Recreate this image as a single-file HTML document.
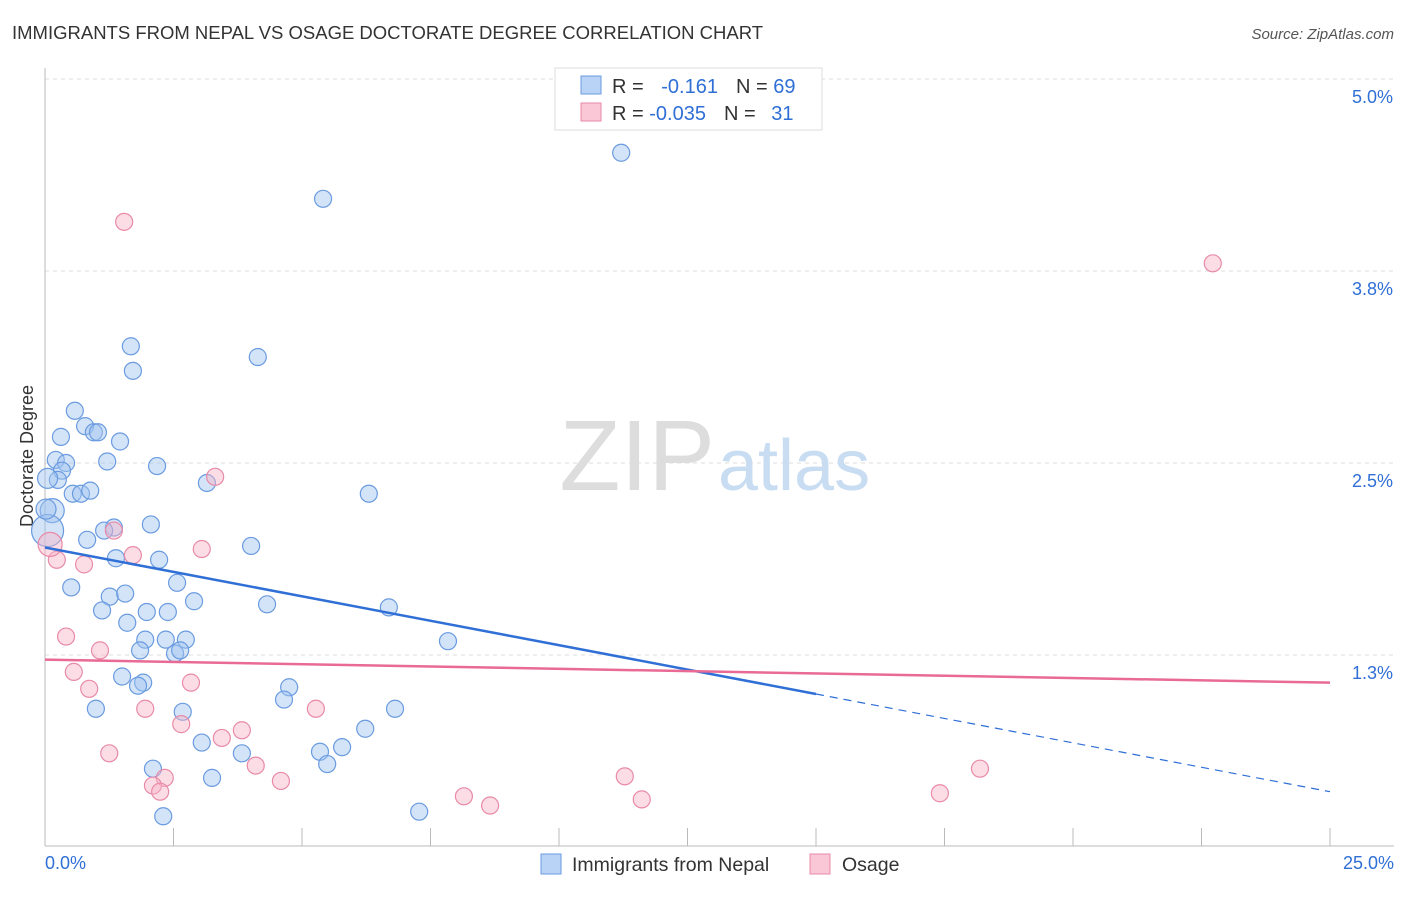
<!DOCTYPE html>
<html><head><meta charset="utf-8"><style>
body{margin:0;background:#fff;font-family:"Liberation Sans",sans-serif}
svg text{font-family:"Liberation Sans",sans-serif}
</style></head><body>
<svg width="1406" height="892">
<text x="12" y="39" font-size="18.5" fill="#333">IMMIGRANTS FROM NEPAL VS OSAGE DOCTORATE DEGREE CORRELATION CHART</text>
<text x="1394" y="39" font-size="15" fill="#555" text-anchor="end" font-style="italic">Source: ZipAtlas.com</text>
<text x="33" y="456" font-size="18" fill="#333" text-anchor="middle" transform="rotate(-90 33 456)">Doctorate Degree</text>
<g id="grid"></g><g id="axes"></g>
<text x="715" y="490" font-size="100" fill="#ddd" text-anchor="end" font-family="Liberation Serif">ZIP</text>
<text x="718" y="490" font-size="72" fill="#c8dcf2">atlas</text>
<g id="pts"></g><g id="lines"></g>
<g>
<rect x="555" y="68" width="267" height="62" fill="#fff" stroke="#ddd"/>
<rect x="581" y="76" width="20" height="18" fill="#b8d3f5" stroke="#6a9be0"/>
<rect x="581" y="103" width="20" height="18" fill="#f9c7d6" stroke="#e88aa8"/>
<text x="612" y="93" font-size="20" fill="#333">R = <tspan fill="#2f6fd6" dx="12">-0.161</tspan><tspan dx="18" fill="#333">N = </tspan><tspan fill="#2f6fd6">69</tspan></text>
<text x="612" y="120" font-size="20" fill="#333">R = <tspan fill="#2f6fd6">-0.035</tspan><tspan dx="18" fill="#333">N = </tspan><tspan fill="#2f6fd6" dx="10">31</tspan></text>
</g>
<g>
<rect x="541" y="854" width="20" height="20" fill="#b8d3f5" stroke="#6a9be0"/>
<text x="572" y="871" font-size="19.5" fill="#333">Immigrants from Nepal</text>
<rect x="810" y="854" width="20" height="20" fill="#f9c7d6" stroke="#e88aa8"/>
<text x="842" y="871" font-size="19.5" fill="#333">Osage</text>
</g>
<text x="45" y="869" font-size="18" fill="#2f6fd6">0.0%</text>
<text x="1394" y="869" font-size="18" fill="#2f6fd6" text-anchor="end">25.0%</text>
</svg>
<script>
const yTicks=[1.25,2.5,3.75,5.0];
const yTickLabels=["1.3%","2.5%","3.8%","5.0%"];
const blueX=[11.21,5.41,1.67,4.14,1.71,0.58,0.78,0.31,0.95,1.03,1.46,0.21,0.41,0.33,1.21,2.18,0.25,3.15,0.54,0.70,0.88,6.30,0.14,2.06,1.34,1.15,0.82,4.01,1.38,2.22,2.57,0.51,1.26,1.56,2.90,4.32,6.69,1.11,1.98,2.39,1.60,1.95,2.35,2.74,1.85,2.53,2.63,7.84,1.50,1.91,1.81,4.75,4.65,0.99,6.81,2.68,6.23,3.05,5.78,5.35,3.83,5.49,2.10,3.25,7.28,2.30,0.05,0.05,0.02];
const blueY=[4.52,4.22,3.26,3.19,3.10,2.84,2.74,2.67,2.70,2.70,2.64,2.52,2.50,2.45,2.51,2.48,2.39,2.37,2.30,2.30,2.32,2.30,2.19,2.10,2.08,2.06,2.00,1.96,1.88,1.87,1.72,1.69,1.63,1.65,1.60,1.58,1.56,1.54,1.53,1.53,1.46,1.35,1.35,1.35,1.28,1.26,1.28,1.34,1.11,1.07,1.05,1.04,0.96,0.90,0.90,0.88,0.77,0.68,0.65,0.62,0.61,0.54,0.51,0.45,0.23,0.20,2.06,2.40,2.20];
const blueR=[8.5,8.5,8.5,8.5,8.5,8.5,8.5,8.5,8.5,8.5,8.5,8.5,8.5,8.5,8.5,8.5,8.5,8.5,8.5,8.5,8.5,8.5,12,8.5,8.5,8.5,8.5,8.5,8.5,8.5,8.5,8.5,8.5,8.5,8.5,8.5,8.5,8.5,8.5,8.5,8.5,8.5,8.5,8.5,8.5,8.5,8.5,8.5,8.5,8.5,8.5,8.5,8.5,8.5,8.5,8.5,8.5,8.5,8.5,8.5,8.5,8.5,8.5,8.5,8.5,8.5,16,10,10];
const pinkX=[1.54,22.72,3.31,3.05,1.71,1.34,0.23,0.76,0.41,1.07,0.56,0.86,2.84,1.95,5.27,2.65,3.83,3.44,1.25,4.10,2.33,4.59,2.10,2.24,8.15,8.66,11.28,11.61,17.41,18.19,0.10];
const pinkY=[4.07,3.80,2.41,1.94,1.90,2.06,1.87,1.84,1.37,1.28,1.14,1.03,1.07,0.90,0.90,0.80,0.76,0.71,0.61,0.53,0.45,0.43,0.40,0.36,0.33,0.27,0.46,0.31,0.35,0.51,1.97];
const blueTrend=[1.95,0.36];
const pinkTrend=[1.22,1.07];
const X=v=>45+v/25*1285, Y=v=>847-v*153.6;
const NS="http://www.w3.org/2000/svg";
function mk(t,a,p){const e=document.createElementNS(NS,t);for(const k in a)e.setAttribute(k,a[k]);document.getElementById(p).appendChild(e);return e;}
yTicks.forEach((t,i)=>{
 const l=mk('line',{x1:45,x2:1394,y1:Y(t),y2:Y(t),stroke:'#ddd','stroke-dasharray':'4,4'},'grid');
 
 
 const tx=mk('text',{x:1393,y:Y(t)+24,'font-size':18,fill:'#2f6fd6','text-anchor':'end'},'grid');tx.textContent=yTickLabels[i];
 
 
});
let ax=mk('line',{x1:45,x2:45,y1:68,y2:846,stroke:'#bbb'},'axes');


ax=mk('line',{x1:45,x2:1394,y1:846,y2:846,stroke:'#bbb'},'axes');


for(let i=1;i<=10;i++){const t=mk('line',{x1:X(i*2.5),x2:X(i*2.5),y1:828,y2:846,stroke:'#bbb'},'axes');
 
 }
blueX.forEach((x,i)=>{const c=mk('circle',{cx:X(x),cy:Y(blueY[i]),r:blueR[i],fill:'rgba(160,196,240,0.45)',stroke:'#6a9be0','stroke-width':1.2},'pts');
 
 });
pinkX.forEach((x,i)=>{const c=mk('circle',{cx:X(x),cy:Y(pinkY[i]),r:i==30?12:8.5,fill:'rgba(248,180,200,0.45)',stroke:'#e88aa8','stroke-width':1.2},'pts');
 
 });
const bAt=x=>blueTrend[0]+(blueTrend[1]-blueTrend[0])*x/25;
let l=mk('line',{x1:X(0),y1:Y(bAt(0)),x2:X(15),y2:Y(bAt(15)),stroke:'#2f6fd6','stroke-width':2.5},'lines');


l=mk('line',{x1:X(15),y1:Y(bAt(15)),x2:X(25),y2:Y(bAt(25)),stroke:'#2f6fd6','stroke-width':1.2,'stroke-dasharray':'8,6'},'lines');


l=mk('line',{x1:X(0),y1:Y(pinkTrend[0]),x2:X(25),y2:Y(pinkTrend[1]),stroke:'#e86a95','stroke-width':2.5},'lines');


</script>
</body></html>
